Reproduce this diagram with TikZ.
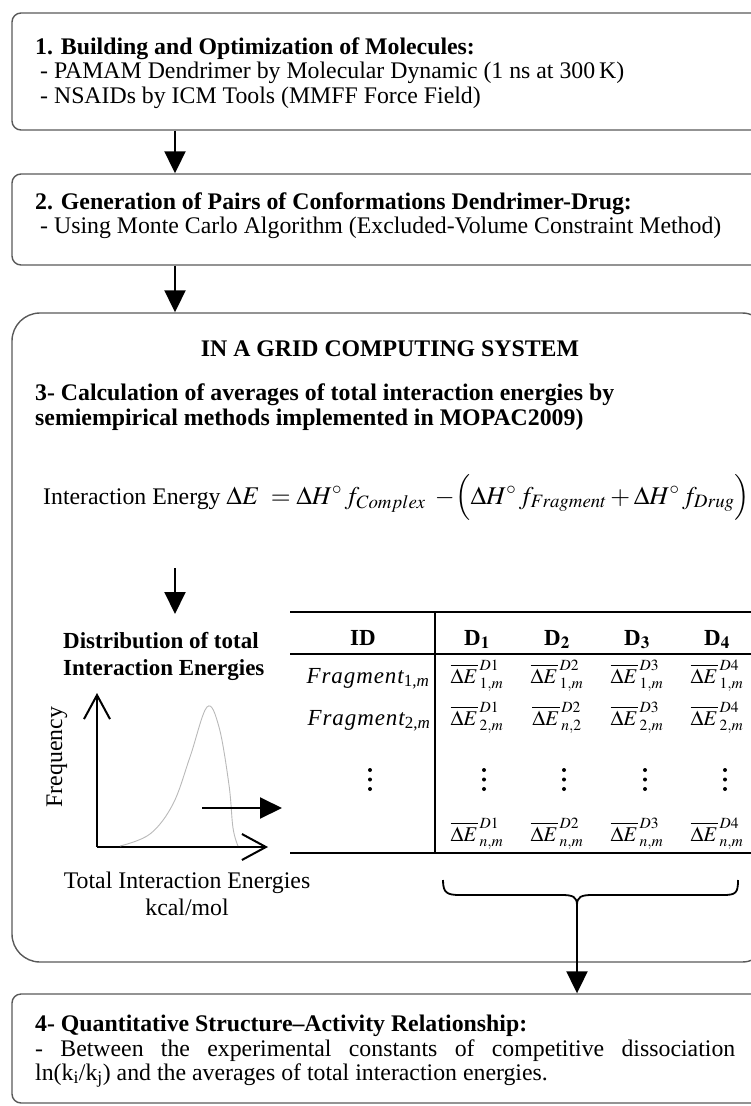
\documentclass[tikz,border=0pt]{standalone}
\usepackage{mathptmx}
\usepackage{fontspec}
\setmainfont{Liberation Serif}
\usetikzlibrary{arrows.meta,calc}
\newcommand{\fragtxt}[1]{{\itshape\addfontfeatures{LetterSpace=4}Fragment}\textsubscript{#1}}
\begin{document}
\begin{tikzpicture}[x=1pt,y=-1pt,
  box/.style={draw=black!65, line width=1.4pt, rounded corners=9pt, inner sep=0pt},
  arr/.style={line width=2pt, -{Triangle[length=22pt,width=21pt]}},
  ax/.style={line width=2pt, -{Straight Barb[length=24pt,width=26pt]}},
  txt/.style={inner sep=0pt, anchor=base west, font=\fontsize{23.8}{24.5}\selectfont},
  ctxt/.style={inner sep=0pt, anchor=base, font=\fontsize{23.8}{24.5}\selectfont},
  hd/.style={inner sep=0pt, anchor=base, font=\fontsize{23}{24}\selectfont\bfseries},
  cell/.style={inner sep=0pt, anchor=base, font=\fontsize{21}{22}\selectfont},
  frag/.style={inner sep=0pt, anchor=base, font=\fontsize{23}{24}\selectfont},
  dot/.style={fill=black, draw=none},
  rule/.style={line width=1.6pt}
]
\useasboundingbox (0,0) rectangle (750,1106);
% boxes
\node[box, minimum width=758pt, minimum height=117pt] (box1) at (391,71.5) {};
\node[box, minimum width=758pt, minimum height=91pt] (box2) at (391,219.5) {};
\node[box, rounded corners=28pt, minimum width=758pt, minimum height=649pt] (box3) at (391,637.5) {};
\node[box, minimum width=758pt, minimum height=109pt] (box4) at (391,1048.5) {};
\coordinate (ax1) at (175,0);
\coordinate (ax2) at (577,0);
% box 1 text
\node[txt] (t11) at (35,54) {\bfseries 1. Building and Optimization of Molecules:};
\node[txt] (t12) at (40,78) {- PAMAM Dendrimer by Molecular Dynamic (1 ns at 300\,K)};
\node[txt] (t13) at (40,103) {- NSAIDs by ICM Tools (MMFF Force Field)};
% box 2 text
\node[txt] (t21) at (35,209) {\bfseries 2. Generation of Pairs of Conformations Dendrimer-Drug:};
\node[txt] (t22) at (40,233) {- Using Monte Carlo Algorithm (Excluded-Volume Constraint Method)};
% arrows between boxes
\draw[arr] (box1.south -| ax1) -- (box2.north -| ax1);
\draw[arr] (box2.south -| ax1) -- (box3.north -| ax1);
% box 3 text
\node[ctxt] (t30) at (390,356) {\bfseries IN A GRID COMPUTING SYSTEM};
\node[txt] (t31) at (35,400) {\bfseries 3- Calculation of averages of total interaction energies by};
\node[txt] (t32) at (35,425) {\bfseries semiempirical methods implemented in MOPAC2009)};
\node[txt] (eq) at (43,504) {Interaction Energy {\fontsize{25.5}{31}\selectfont$\Delta E\; = \Delta H^{\circ}\,f_{Complex}\; -\!\Bigl(\Delta H^{\circ}\,f_{Fragment} + \Delta H^{\circ}\,f_{Drug}\Bigr)$}};
% down arrow
\coordinate (a3s) at (175,568);
\coordinate (a3e) at (175,614);
\draw[arr] (a3s) -- (a3e);
\node[txt, font=\fontsize{23}{24}\selectfont\bfseries] (dist1) at (63,648) {Distribution of total};
\node[txt, font=\fontsize{23}{24}\selectfont\bfseries] (dist2) at (63,675) {Interaction Energies};
% graph
\coordinate (org) at (97,847);
\coordinate (ytop) at (97,693);
\coordinate (xend) at (268,847);
\draw[ax] (org) -- (ytop);
\draw[ax] (org) -- (xend);
\draw[gray!55, line width=0.9pt] plot[smooth, tension=0.6] coordinates {(120,846) (150,834) (173,804) (190,757) (207,707) (219,727) (229,785) (233,828) (238,846)};
\node[inner sep=0pt, rotate=90, font=\fontsize{23.8}{24.5}\selectfont] (freq) at (57,757) {Frequency};
\node[ctxt] (xl1) at (187,888) {Total Interaction Energies};
\node[ctxt] (xl2) at (187,915) {kcal/mol};
% table
\coordinate (tl) at (290,612);
\coordinate (tr) at (760,612);
\draw[rule] (tl) -- (tr);
\draw[line width=1.4pt] (290,654) -- (760,654);
\draw[line width=2.4pt] (290,853) -- (760,853);
\draw[line width=1.6pt] (435,612) -- (435,853);
\coordinate (a4s) at (202,808);
\coordinate (a4e) at (282,808);
\draw[arr] (a4s) -- (a4e);
\node[hd] (hID) at (363,645) {ID};
\node[hd] (hD1) at (477,645) {D$_{\mathbf{1}}$};
\node[hd] (hD2) at (557,645) {D$_{\mathbf{2}}$};
\node[hd] (hD3) at (637,645) {D$_{\mathbf{3}}$};
\node[hd] (hD4) at (717,645) {D$_{\mathbf{4}}$};
\node[frag] (f1) at (368,683) {\fragtxt{1,\textit{m}}};
\node[frag] (f2) at (369,725) {\fragtxt{2,\textit{m}}};
\node[cell] (c11) at (477,683) {$\overline{\Delta E}^{\,D1}_{\,1,m}$};
\node[cell] (c12) at (557,683) {$\overline{\Delta E}^{\,D2}_{\,1,m}$};
\node[cell] (c13) at (637,683) {$\overline{\Delta E}^{\,D3}_{\,1,m}$};
\node[cell] (c14) at (717,683) {$\overline{\Delta E}^{\,D4}_{\,1,m}$};
\node[cell] (c21) at (477,725) {$\overline{\Delta E}^{\,D1}_{\,2,m}$};
\node[cell] (c22) at (557,725) {$\overline{\Delta E}^{\,D2}_{\,n,2}$};
\node[cell] (c23) at (637,725) {$\overline{\Delta E}^{\,D3}_{\,2,m}$};
\node[cell] (c24) at (717,725) {$\overline{\Delta E}^{\,D4}_{\,2,m}$};
\foreach \x in {370,484,564,645,725}{
  \foreach \y in {770,779.5,789}{
    \fill[dot] (\x,\y) circle (2pt);
  }
}
\node[cell] (c41) at (477,841) {$\overline{\Delta E}^{\,D1}_{\,n,m}$};
\node[cell] (c42) at (557,841) {$\overline{\Delta E}^{\,D2}_{\,n,m}$};
\node[cell] (c43) at (637,841) {$\overline{\Delta E}^{\,D3}_{\,n,m}$};
\node[cell] (c44) at (717,841) {$\overline{\Delta E}^{\,D4}_{\,n,m}$};
% brace
\coordinate (btip) at (577,905);
\draw[line width=1.8pt] (443,880) .. controls (443,893) and (447,895) .. (460,895) -- (562,895) .. controls (573,895) and (577,897) .. (btip)
  .. controls (577,897) and (581,895) .. (592,895) -- (723,895) .. controls (736,895) and (738,893) .. (738,880);
\draw[arr] (btip) -- (box4.north -| ax2);
% box 4 text
\node[txt] (t41) at (35,1031) {\bfseries 4- Quantitative Structure--Activity Relationship:};
\node[txt] (t42) at (35,1056) {\makebox[700pt][s]{- Between the experimental constants of competitive dissociation}};
\node[txt] (t43) at (35,1080) {ln(k\textsubscript{i}/k\textsubscript{j}) and the averages of total interaction energies.};
\end{tikzpicture}
\end{document}
